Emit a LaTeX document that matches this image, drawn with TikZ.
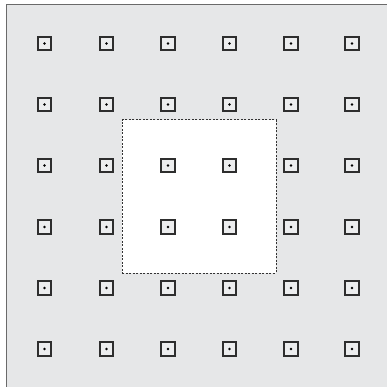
\documentclass[tikz,border=0pt]{standalone}
\begin{document}
\begin{tikzpicture}[x=1pt,y=-1pt,
  hole/.style={fill=white,draw=black!80,line width=0.7pt,dash pattern=on 2pt off 1.5pt},
  sq/.style={draw=black!82,line width=2.3pt,minimum size=13.5pt,inner sep=0pt,fill=sqfill,rectangle},
  dotm/.style={circle,fill=black,inner sep=0pt,minimum size=2.8pt}]
\definecolor{bggray}{HTML}{E6E7E8}
\definecolor{framegray}{HTML}{6A6A6A}
\definecolor{sqfill}{HTML}{ECEDEE}
\useasboundingbox (0,0) rectangle (386,387);
\fill[bggray] (6.5,4.5) rectangle (392,393);
\draw[framegray,line width=1.1pt] (6.5,393) -- (6.5,4.5) -- (392,4.5);
\node[hole,minimum width=153.5pt,minimum height=153pt,inner sep=0pt,anchor=north west] (hole) at (122,119.5) {};
\foreach \x [count=\i] in {44.5,106.5,168,229.5,291,352}{
  \foreach \y [count=\j] in {43.5,104.5,165.5,227,288,349}{
    \node[sq] (s-\i-\j) at (\x,\y) {};
    \node[dotm] (d-\i-\j) at (s-\i-\j.center) {};
  }
}
\end{tikzpicture}
\end{document}
